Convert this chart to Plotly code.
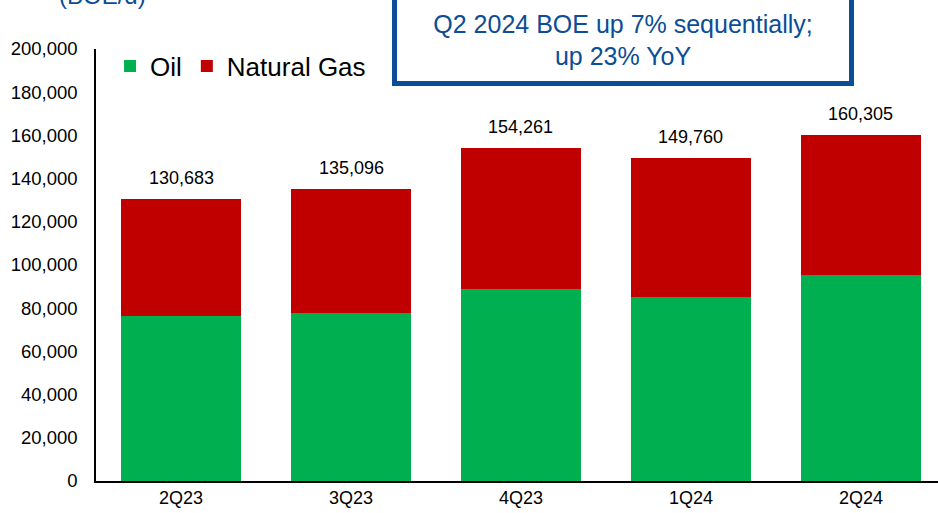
import plotly.graph_objects as go

quarters = ["2Q23", "3Q23", "4Q23", "1Q24", "2Q24"]
oil = [76400, 77600, 88900, 85200, 95400]
totals = [130683, 135096, 154261, 149760, 160305]
gas = [t - o for t, o in zip(totals, oil)]

FONT = "Arial, Liberation Sans, sans-serif"
BLUE = "#0B4D96"

fig = go.Figure()
fig.add_trace(go.Bar(x=quarters, y=oil, name="Oil", marker_color="#00B050",
                     marker_line_width=0, width=0.71))
fig.add_trace(go.Bar(x=quarters, y=gas, name="Natural Gas", marker_color="#C00000",
                     marker_line_width=0, width=0.71))

# total labels above each bar
for q, t in zip(quarters, totals):
    fig.add_annotation(x=q, y=t, text=f"{t:,}", showarrow=False, yshift=21,
                       font=dict(size=18, color="black", family=FONT))

# headline box at the top
fig.add_annotation(xref="paper", yref="paper", x=0.626, y=1.020,
                   xanchor="center", yanchor="middle",
                   text="Q2 2024 BOE up 7% sequentially;<br>up 23% YoY",
                   showarrow=False, font=dict(size=25, color=BLUE, family=FONT),
                   bgcolor="white", bordercolor=BLUE, borderwidth=5,
                   width=450, height=80, align="center")

# cut-off unit title (the reference crops it at the top edge)
fig.add_annotation(xref="paper", yref="paper", x=0.008, y=1.123,
                   xanchor="center", yanchor="middle",
                   text="(BOE/d)", showarrow=False,
                   font=dict(size=24, color=BLUE, family=FONT))

fig.update_layout(
    barmode="stack",
    width=938, height=513,
    margin=dict(l=96, r=0, t=49, b=32),
    plot_bgcolor="white", paper_bgcolor="white",
    font=dict(family=FONT, color="black"),
    legend=dict(orientation="h", x=0.0167, y=1.015, xanchor="left", yanchor="top",
                traceorder="normal", font=dict(size=26), itemwidth=30,
                bgcolor="rgba(0,0,0,0)"),
    xaxis=dict(range=[-0.5, 4.453], showline=True, linecolor="black", linewidth=1.5,
               tickfont=dict(size=18), ticks="", showgrid=False),
    yaxis=dict(range=[0, 200000], dtick=20000, tickformat=",", showline=True,
               linecolor="black", linewidth=1.5, showgrid=False, zeroline=False,
               tickfont=dict(size=18.5), ticks="", ticklabelstandoff=13),
)

fig.write_html("out.html", config={"displayModeBar": False},
               post_script="document.body.style.margin='0';")
